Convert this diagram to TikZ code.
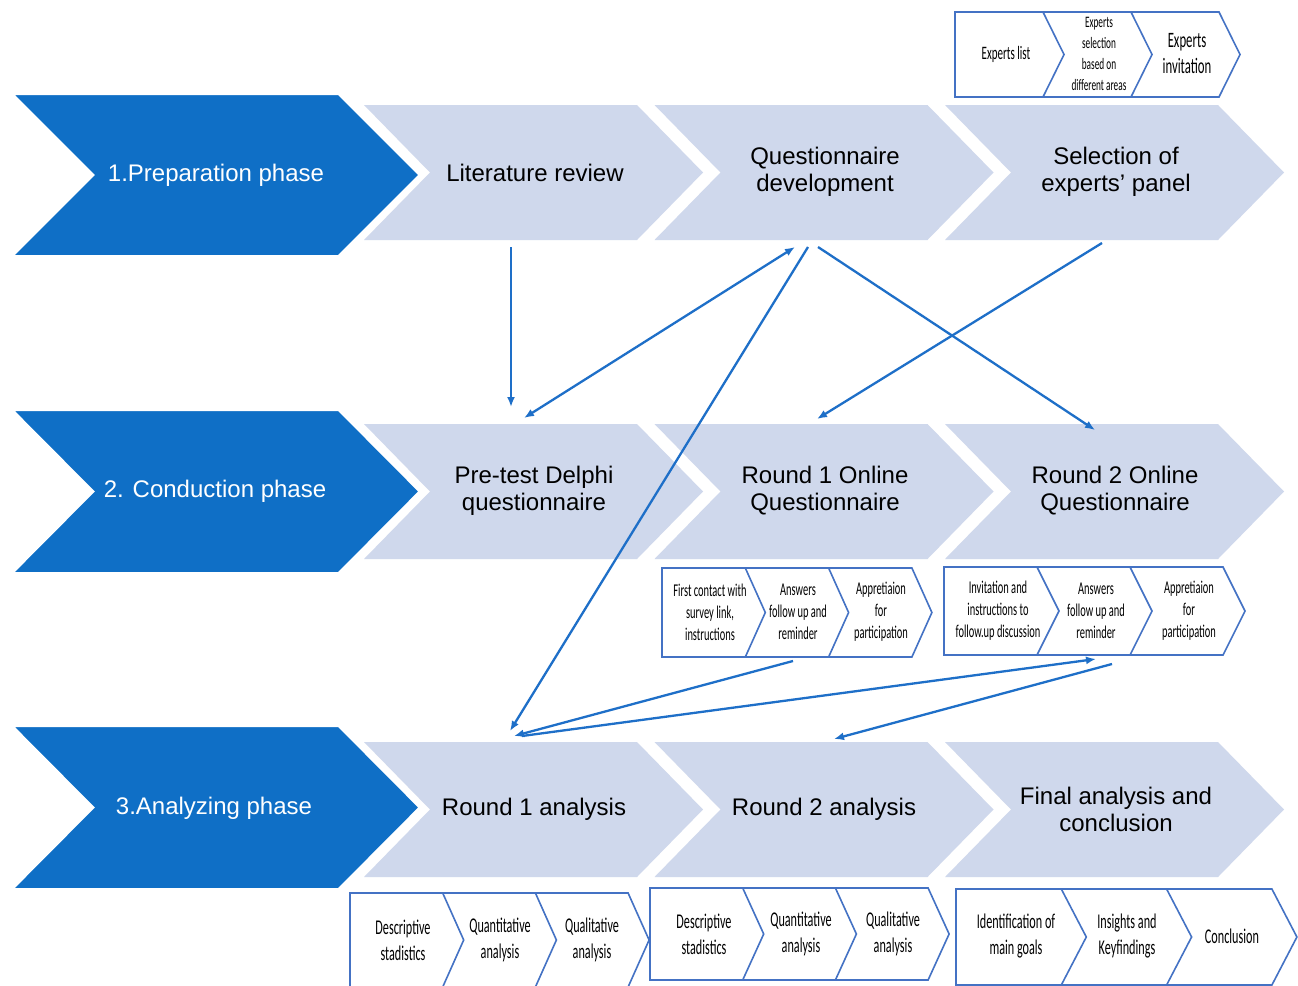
\documentclass[tikz,border=0pt]{standalone}
\usepackage{fontspec}
\setmainfont{Liberation Sans}
\newfontfamily\narrowfont[FakeStretch=0.58]{Carlito}
\usetikzlibrary{arrows.meta}
\definecolor{darkchev}{HTML}{0F6FC6}
\definecolor{lightchev}{HTML}{CFD8EC}
\definecolor{arrowblue}{HTML}{1E6FC8}
\definecolor{boxblue}{HTML}{4472C4}
% #1 L, #2 T, #3 W, #4 H, #5 D, #6 style
\newcommand\chevshape[6]{\path[#6] (#1,#2) -- ++(#3,0) -- ++(#5,#4/2) -- ++(-#5,#4/2) -- ++(-#3,0) -- ++(#5,-#4/2) -- cycle;}
% small group: #1 L, #2 T, #3 w, #4 h, #5 d
\newcommand\sgroup[5]{%
  \path[smallbox] (#1,#2) -- ++(3*#3,0) -- ++(#5,#4/2) -- ++(-#5,#4/2) -- ++(-3*#3,0) -- cycle;
  \path[smallbox] (#1+#3,#2) -- ++(#5,#4/2) -- ++(-#5,#4/2);
  \path[smallbox] (#1+2*#3,#2) -- ++(#5,#4/2) -- ++(-#5,#4/2);}
\begin{document}
\begin{tikzpicture}[x=1pt,y=-1pt,
  lightc/.style={fill=lightchev},
  darkc/.style={fill=darkchev,draw=white,line width=4pt,line join=miter},
  smallbox/.style={fill=white,draw=boxblue,line width=1.6pt,line join=miter},
  maintxt/.style={align=center,font=\fontsize{24}{27}\selectfont,text=black},
  phasetxt/.style={align=center,font=\fontsize{24}{27}\selectfont,text=white},
  stxt/.style={align=center,font=\narrowfont\fontsize{18}{22}\selectfont,text=black},
  btxt/.style={stxt,font=\narrowfont\fontsize{21}{26}\selectfont},
  conn/.style={draw=arrowblue,line width=2.3pt,-{Latex[length=10pt,width=8pt]}},
  conn2/.style={draw=arrowblue,line width=2.3pt,{Latex[length=10pt,width=8pt]}-{Latex[length=10pt,width=8pt]}}]
\path[use as bounding box] (0,0) rectangle (1298,985);
\clip (0,0) rectangle (1298,985);
\fill[white] (0,0) rectangle (1298,985);

% light chevrons
\foreach \k in {0,1,2}{
  \chevshape{364+\k*290.5}{105}{273}{135}{66}{lightc}
  \chevshape{364+\k*290.5}{424}{273}{135}{66}{lightc}
  \chevshape{364+\k*290.5}{742}{273}{135}{66}{lightc}
}
% dark phase chevrons
\chevshape{10}{93}{329}{164}{82}{darkc}
\chevshape{10}{409}{329}{165}{82}{darkc}
\chevshape{10}{725}{329}{165}{82}{darkc}

\node[phasetxt] (p1) at (216,175) {1.Preparation phase};
\node[phasetxt] (p2) at (215,491) {2. Conduction phase};
\node[phasetxt] (p3) at (214,808) {3.Analyzing phase};

\node[maintxt] (lit) at (535,173) {Literature review};
\node[maintxt] (qdev) at (825,172) {Questionnaire\\development};
\node[maintxt] (sel) at (1116,172) {Selection of\\experts' panel};
\node[maintxt] (pre) at (534,491) {Pre-test Delphi\\questionnaire};
\node[maintxt] (r1) at (825,491) {Round 1 Online\\Questionnaire};
\node[maintxt] (r2) at (1115,491) {Round 2 Online\\Questionnaire};
\node[maintxt] (a1) at (534,809) {Round 1 analysis};
\node[maintxt] (a2) at (824,809) {Round 2 analysis};
\node[maintxt] (fin) at (1116,809) {Final analysis and\\conclusion};

% small groups
\sgroup{955}{12}{88}{85}{21}
\sgroup{662}{568}{83.3}{89}{20}
\sgroup{944}{567}{93}{88}{22}
\sgroup{350}{893}{92.7}{94}{21}
\sgroup{650}{888}{92.7}{92}{21}
\sgroup{956}{889}{105.3}{96}{25}

\node[stxt,font=\narrowfont\fontsize{19}{22}\selectfont] (s1) at (1006,54) {Experts list};
\node[stxt,font=\narrowfont\fontsize{16}{21}\selectfont] (s2) at (1099,54) {Experts\\selection\\based on\\different areas};
\node[stxt,font=\narrowfont\fontsize{22}{26}\selectfont] (s3) at (1187,54) {Experts\\invitation};

\node[stxt] (t1) at (710,612) {First contact with\\survey link,\\instructions};
\node[stxt] (t2) at (798,612) {Answers\\follow up and\\reminder};
\node[stxt] (t3) at (881,612) {Appretiaion\\for\\participation};

\node[stxt] (u1) at (998,611) {Invitation and\\instructions to\\follow.up discussion};
\node[stxt] (u2) at (1096,611) {Answers\\follow up and\\reminder};
\node[stxt] (u3) at (1189,611) {Appretiaion\\for\\participation};

\node[btxt] (b1) at (403,940) {Descriptive\\stadistics};
\node[btxt] (b2) at (500,940) {Quantitative\\analysis};
\node[btxt] (b3) at (592,940) {Qualitative\\analysis};

\node[btxt] (c1) at (704,934) {Descriptive\\stadistics};
\node[btxt] (c2) at (801,934) {Quantitative\\analysis};
\node[btxt] (c3) at (893,934) {Qualitative\\analysis};

\node[btxt] (d1) at (1016,936) {Identification of\\main goals};
\node[btxt] (d2) at (1127,936) {Insights and\\Keyfindings};
\node[btxt] (d3) at (1232,936) {Conclusion};

% connector end points
\coordinate (litS) at (511,247);
\coordinate (preN) at (511,407);
\coordinate (preNE) at (524,418);
\coordinate (qdevSW) at (795,247);
\coordinate (qdevS) at (808,247);
\coordinate (qdevSE) at (818,247);
\coordinate (a1N) at (510,731);
\coordinate (r2N) at (1095,430);
\coordinate (selS) at (1102,243);
\coordinate (r1N) at (817,419);
\coordinate (tS) at (793,661);
\coordinate (a1NE) at (514,736);
\coordinate (a1NEb) at (522,736);
\coordinate (uS) at (1096,659);
\coordinate (uSb) at (1112,664);
\coordinate (a2N) at (834,739);

\draw[conn] (litS) -- (preN);
\draw[conn2] (preNE) -- (qdevSW);
\draw[conn] (qdevS) -- (a1N);
\draw[conn] (qdevSE) -- (r2N);
\draw[conn] (selS) -- (r1N);
\draw[conn] (tS) -- (a1NE);
\draw[conn] (a1NEb) -- (uS);
\draw[conn] (uSb) -- (a2N);
\end{tikzpicture}
\end{document}
